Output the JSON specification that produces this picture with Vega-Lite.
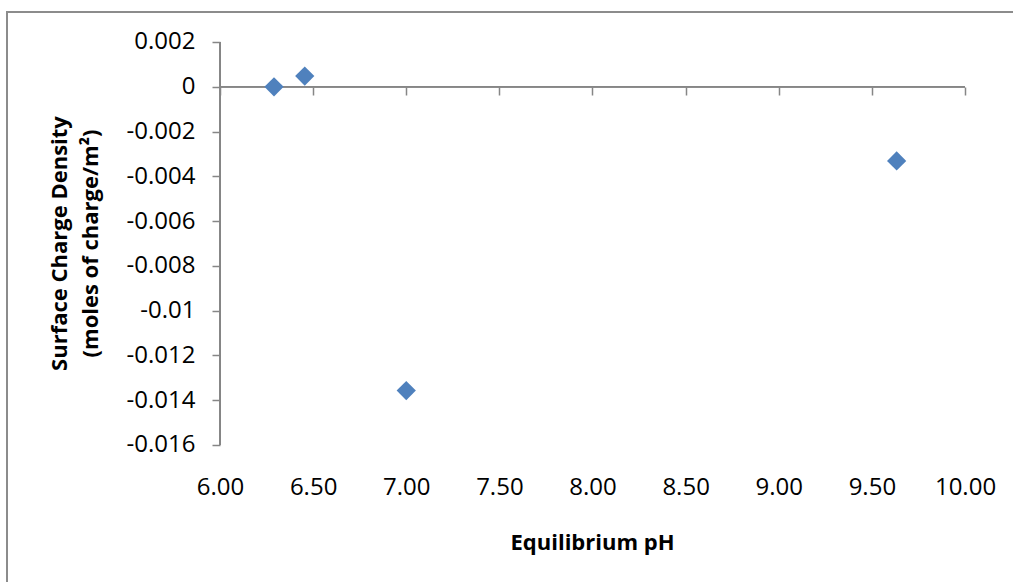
{
  "$schema": "https://vega.github.io/schema/vega-lite/v6.json",
  "autosize": "none",
  "padding": {"left": 7, "top": 12, "right": -2, "bottom": -2},
  "width": 1008,
  "height": 572,
  "background": "white",
  "config": {
    "view": {"stroke": "#8c8c8c", "strokeWidth": 2},
    "font": "Open Sans",
    "axis": {"grid": false, "domain": false, "labelFont": "Open Sans", "titleFont": "Open Sans", "labelColor": "#000", "titleColor": "#000", "tickColor": "#868686", "tickWidth": 1.5}
  },
  "data": {"values": [
    {"ph": 6.29, "density": 0.0},
    {"ph": 6.455, "density": 0.00048},
    {"ph": 7.0, "density": -0.01357},
    {"ph": 9.633, "density": -0.00331}
  ]},
  "resolve": {"axis": {"x": "independent"}},
  "layer": [
    {
      "mark": {"type": "rule", "color": "#868686", "strokeWidth": 1.5},
      "encoding": {
        "x": {"datum": 6, "type": "quantitative", "scale": {"domain": [4.85638, 10.26846], "zero": false, "nice": false},
          "axis": {"values": [6, 6.5, 7, 7.5, 8, 8.5, 9, 9.5, 10], "orient": "bottom", "offset": -497, "labels": false, "ticks": true, "tickSize": 8, "title": null}},
        "y": {"datum": -0.016, "type": "quantitative", "scale": {"domain": [-0.0222085, 0.00333995], "zero": false, "nice": false},
          "axis": {"values": [-0.016, -0.014, -0.012, -0.01, -0.008, -0.006, -0.004, -0.002, 0, 0.002], "orient": "left", "offset": -213, "tickSize": 8, "labelPadding": 17, "labelFontSize": 24, "labelExpr": "'' + datum.value",
            "title": ["Surface Charge Density", "(moles of charge/m²)"], "titleFontSize": 22, "titleFontWeight": "bold", "titleAngle": -90, "titleAlign": "center", "titleBaseline": "alphabetic", "titleX": -154, "titleY": 231, "titleLineHeight": 31}},
        "y2": {"datum": 0.002}
      }
    },
    {
      "mark": {"type": "rule", "color": "#868686", "strokeWidth": 1.5},
      "encoding": {
        "x": {"datum": 6, "type": "quantitative", "axis": null},
        "x2": {"datum": 10},
        "y": {"datum": 0, "type": "quantitative"}
      }
    },
    {
      "mark": {"type": "point", "shape": "diamond", "filled": true, "size": 370, "color": "#4F81BD", "opacity": 1},
      "encoding": {
        "x": {"field": "ph", "type": "quantitative",
          "axis": {"values": [6, 6.5, 7, 7.5, 8, 8.5, 9, 9.5, 10], "orient": "bottom", "offset": -97, "ticks": false, "tickSize": 0, "labelPadding": 0, "labelBaseline": "middle", "labelFontSize": 24, "format": ".2f",
            "title": "Equilibrium pH", "titleFontSize": 22, "titleFontWeight": "bold", "titleX": 585, "titleY": 62, "titleAlign": "center", "titleBaseline": "alphabetic"}},
        "y": {"field": "density", "type": "quantitative"}
      }
    }
  ]
}
